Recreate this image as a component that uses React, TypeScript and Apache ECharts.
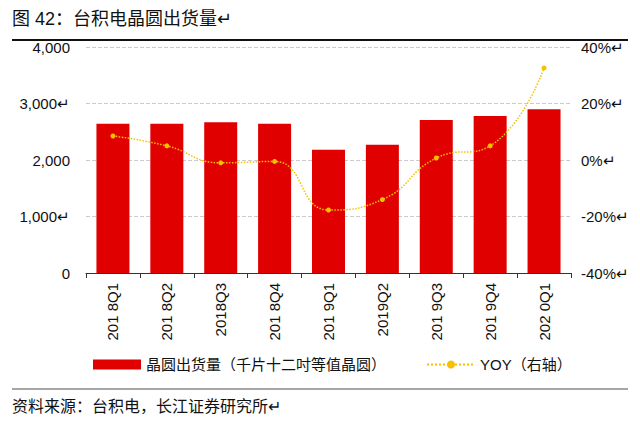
import React, { useEffect, useRef } from 'react'
import * as echarts from 'echarts'

const categories = ['201 8Q1', '201 8Q2', '2018Q3', '201 8Q4', '201 9Q1', '2019Q2', '201 9Q3', '201 9Q4', '202 0Q1']
const shipments = [2640, 2640, 2670, 2640, 2180, 2270, 2710, 2780, 2900]
const yoy = [8.5, 5, -1, -0.5, -17.7, -14, 0.7, 5, 32.6]
const leftTicks = ['0', '1,000↵', '2,000', '3,000↵', '4,000']
const rightTicks = ['-40%↵', '-20%↵', '0%↵', '20%↵', '40%↵']

const font = '"Liberation Sans", Arial, "Noto Sans CJK SC", sans-serif'

export default function App() {
  const chartRef = useRef<HTMLDivElement>(null)

  useEffect(() => {
    if (!chartRef.current) return
    const chart = echarts.init(chartRef.current, undefined, { renderer: 'svg' })

    const option: echarts.EChartsOption = {
      animation: false,
      textStyle: { fontFamily: font },
      grid: { left: 78, right: 57, top: 39, bottom: 148 },
      graphic: [
        { type: 'text', left: 4, top: 2, style: { text: '图 42：台积电晶圆出货量↵', fontSize: 18, fill: '#111', fontFamily: font } },
        { type: 'line', shape: { x1: 4, y1: 32, x2: 620, y2: 32 }, style: { stroke: '#111', lineWidth: 2 } },
        { type: 'line', shape: { x1: 4, y1: 381, x2: 620, y2: 381 }, style: { stroke: '#888', lineWidth: 1.5 } },
        { type: 'text', left: 4, top: 390, style: { text: '资料来源：台积电，长江证券研究所↵', fontSize: 16, fill: '#111', fontFamily: font } },
      ],
      legend: {
        bottom: 44,
        left: 80,
        itemGap: 40,
        itemWidth: 48,
        itemHeight: 10,
        textStyle: { fontSize: 15, color: '#111' },
        data: [
          { name: '晶圆出货量（千片十二吋等值晶圆）', icon: 'rect' },
          { name: 'YOY（右轴）' },
        ],
      },
      xAxis: {
        type: 'category',
        data: categories,
        axisLine: { lineStyle: { color: '#333' } },
        axisTick: { show: true, lineStyle: { color: '#333' } },
        axisLabel: { rotate: 90, interval: 0, fontSize: 15, color: '#111', margin: 10 },
      },
      yAxis: [
        {
          type: 'value',
          min: 0,
          max: 4000,
          interval: 1000,
          axisLine: { show: false },
          axisTick: { show: false },
          axisLabel: { fontSize: 15, color: '#111', margin: 16, formatter: (v: number) => leftTicks[v / 1000] },
          splitLine: { lineStyle: { type: 'dashed', color: '#ccc' } },
        },
        {
          type: 'value',
          min: -40,
          max: 40,
          interval: 20,
          axisLine: { show: false },
          axisTick: { show: false },
          axisLabel: { fontSize: 15, color: '#111', margin: 10, formatter: (v: number) => rightTicks[(v + 40) / 20] },
          splitLine: { show: false },
        },
      ],
      series: [
        {
          name: '晶圆出货量（千片十二吋等值晶圆）',
          type: 'bar',
          data: shipments,
          barWidth: 33,
          itemStyle: { color: '#e00000' },
        },
        {
          name: 'YOY（右轴）',
          type: 'line',
          yAxisIndex: 1,
          data: yoy,
          smooth: true,
          symbol: 'circle',
          symbolSize: 5,
          lineStyle: { color: '#f5c000', type: 'dotted', width: 1.5 },
          itemStyle: { color: '#f5c000' },
        },
      ],
    }

    chart.setOption(option)
    return () => chart.dispose()
  }, [])

  return <div ref={chartRef} style={{ width: 624, height: 413 }} />
}
